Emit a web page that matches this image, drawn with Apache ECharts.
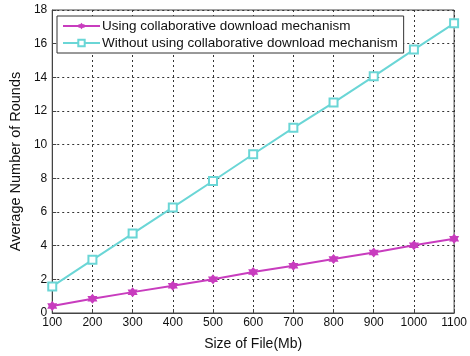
<!DOCTYPE html>
<html>
<head>
<meta charset="utf-8">
<script src="https://cdn.jsdelivr.net/npm/echarts@6/dist/echarts.min.js"></script>
<style>html,body{margin:0;padding:0;background:#fff}#c{width:470px;height:356px}</style>
</head>
<body>
<div id="c"></div>
<script>
var fileSizes = [100, 200, 300, 400, 500, 600, 700, 800, 900, 1000, 1100];
var withCollab = [0.42, 0.85, 1.24, 1.62, 2.0, 2.43, 2.81, 3.21, 3.59, 4.03, 4.41];
var withoutCollab = [1.58, 3.16, 4.72, 6.27, 7.84, 9.43, 11.0, 12.5, 14.06, 15.65, 17.21];
var seriesNames = ['Using collaborative download mechanism', 'Without using collaborative download mechanism'];
var xName = 'Size of File(Mb)';
var yName = 'Average Number of Rounds';

function pairs(xs, ys) { return xs.map(function (x, i) { return [x, ys[i]]; }); }

var star = 'path://M0,-10 L3.5,-5.5 L9,-5.5 L6.5,0 L9,5.5 L3.5,5.5 L0,10 L-3.5,5.5 L-9,5.5 L-6.5,0 L-9,-5.5 L-3.5,-5.5 Z';
var font = 'Liberation Sans, Arial, sans-serif';
var chart = echarts.init(document.getElementById('c'));
chart.setOption({
  animation: false,
  backgroundColor: '#fff',
  grid: { left: 46, right: 12, top: 10, bottom: 38, show: true, borderColor: '#444', borderWidth: 1, backgroundColor: '#fff' },
  legend: {
    orient: 'vertical', left: 57, top: 16, itemGap: 3, padding: [3, 6, 3, 5],
    itemWidth: 37, itemHeight: 8,
    borderColor: '#333', borderWidth: 1, backgroundColor: '#fff',
    textStyle: { fontFamily: font, fontSize: 13.5, color: '#111', padding: [0, 0, 0, -3] },
    data: seriesNames
  },
  xAxis: {
    type: 'value', min: 100, max: 1100, interval: 100,
    name: xName, nameLocation: 'middle', nameGap: 24,
    nameTextStyle: { fontFamily: font, fontSize: 14, color: '#111' },
    axisLine: { show: true, onZero: false, lineStyle: { color: '#444' } },
    axisTick: { show: true, inside: true, length: 4, lineStyle: { color: '#444' } },
    axisLabel: { fontFamily: font, fontSize: 12, color: '#111', margin: 4, formatter: function (v) { return String(v); } },
    splitLine: { show: true, lineStyle: { color: '#333', type: [2, 3], width: 1 } }
  },
  yAxis: {
    type: 'value', min: 0, max: 18, interval: 2,
    name: yName, nameLocation: 'middle', nameGap: 28,
    nameTextStyle: { fontFamily: font, fontSize: 14.5, color: '#111' },
    axisLine: { show: true, lineStyle: { color: '#444' } },
    axisTick: { show: true, inside: true, length: 4, lineStyle: { color: '#444' } },
    axisLabel: { fontFamily: font, fontSize: 12, color: '#111', margin: 5 },
    splitLine: { show: true, lineStyle: { color: '#333', type: [2, 3], width: 1 } }
  },
  series: [
    {
      name: seriesNames[0], type: 'line', data: pairs(fileSizes, withCollab),
      symbol: star, symbolSize: 10, showAllSymbol: true,
      lineStyle: { color: '#c83cbe', width: 2 },
      itemStyle: { color: '#c83cbe' }
    },
    {
      name: seriesNames[1], type: 'line', data: pairs(fileSizes, withoutCollab),
      symbol: 'emptyRect', symbolSize: 8, showAllSymbol: true,
      lineStyle: { color: '#6ad6d6', width: 2 },
      itemStyle: { color: '#6ad6d6', borderWidth: 1.5 }
    }
  ]
});
</script>
</body>
</html>
